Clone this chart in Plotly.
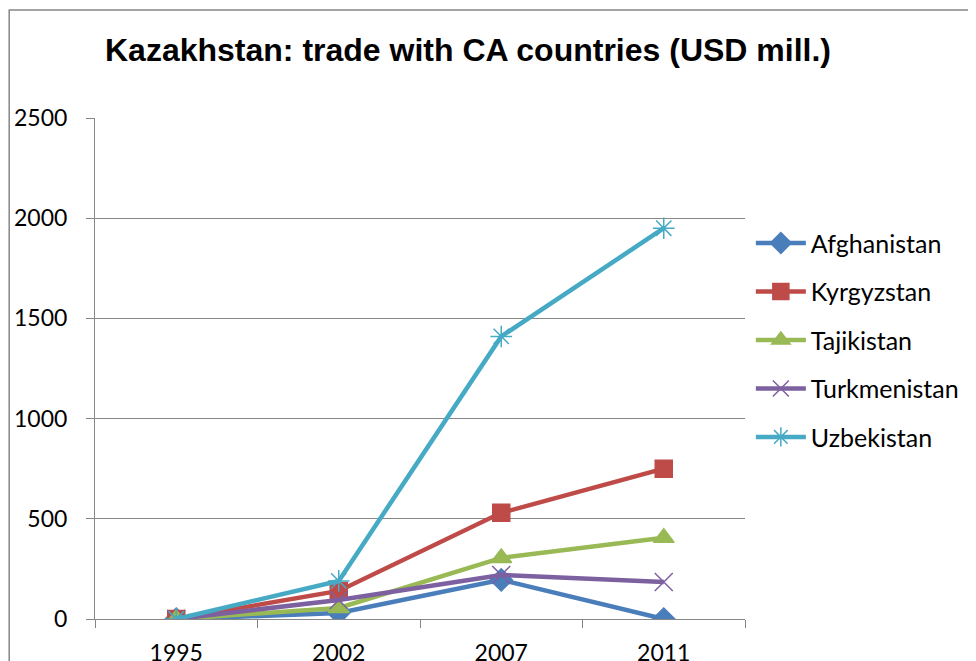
import plotly.graph_objects as go

years = ["1995", "2002", "2007", "2011"]
afghanistan = [0, 30, 195, 0]
kyrgyzstan = [0, 140, 530, 750]
tajikistan = [0, 55, 305, 405]
turkmenistan = [0, 95, 220, 185]
uzbekistan = [0, 190, 1410, 1950]

series = [
    ("Afghanistan", afghanistan, "#4A7EBB", "diamond", 17),
    ("Kyrgyzstan", kyrgyzstan, "#BE4B48", "square", 17),
    ("Tajikistan", tajikistan, "#98B954", "triangle-up", 18),
    ("Turkmenistan", turkmenistan, "#7D60A0", "x-thin-open", 18),
    ("Uzbekistan", uzbekistan, "#46AAC5", "asterisk-open", 18),
]

fig = go.Figure()
for name, vals, color, sym, size in series:
    fig.add_trace(go.Scatter(
        x=years, y=vals, name=name, mode="lines+markers", legendgroup=name,
        line=dict(color=color, width=4.5),
        marker=dict(symbol=sym, size=size, color=color,
                    line=dict(color=color, width=1.5)),
    ))

fig.update_layout(
    width=976, height=661,
    margin=dict(l=87, r=239, t=110, b=50),
    paper_bgcolor="white", plot_bgcolor="white",
    font=dict(family="Lato, Open Sans, sans-serif", size=23, color="black"),
    title=dict(text="<b>Kazakhstan: trade with CA countries (USD mill.)</b>",
               x=460/976, xanchor="center", y=1-42/661, yanchor="middle",
               font=dict(family="Liberation Sans, Arial, sans-serif", size=32, color="black")),
    showlegend=True,
    legend=dict(x=1.009, y=0.796, xanchor="left", yanchor="top",
                font=dict(size=25), tracegroupgap=13, itemsizing="trace",
                itemwidth=50, bgcolor="rgba(0,0,0,0)"),
    xaxis=dict(type="category", tickson="boundaries", ticks="outside", ticklen=8,
               tickcolor="#868686", showline=True, linecolor="#868686", linewidth=1,
               showgrid=False, range=[-0.5, 3.5], tickfont=dict(size=23),
               ticklabelstandoff=13, automargin=False),
    yaxis=dict(range=[0, 2500], dtick=500, ticks="outside", ticklen=8,
               tickcolor="#868686", showline=True, linecolor="#868686", linewidth=1,
               showgrid=True, gridcolor="#868686", gridwidth=1, zeroline=False,
               tickfont=dict(size=23), ticklabelstandoff=14, automargin=False),
    shapes=[dict(type="rect", xref="paper", yref="paper",
                 x0=-0.132, x1=1.6, y0=-0.2, y1=1.2156,
                 line=dict(color="#868686", width=1.5), fillcolor="rgba(0,0,0,0)",
                 layer="below")],
)

fig.write_html("out.html")
